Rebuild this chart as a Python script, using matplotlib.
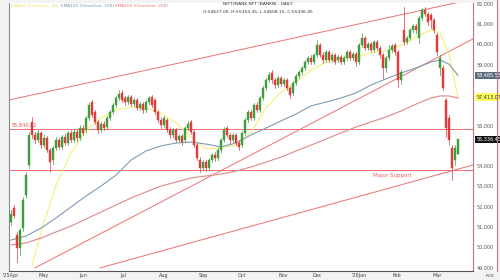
import matplotlib
matplotlib.use("Agg")
import matplotlib.pyplot as plt
from matplotlib.patches import Rectangle

# ---------------- data ----------------
opens = [51260, 51950, 50620, 49980, 50970, 52590, 54070, 56190, 55550, 55300,
         55640, 55050, 55400, 54810, 54310, 54910, 55300, 54960, 55450, 55150,
         55640, 55300, 55690, 55400, 55890, 55790, 56380, 57170, 56680, 56190,
         55790, 56090, 55940, 56380, 56680, 57020, 57370, 57620, 57370, 57170,
         57420, 57070, 57270, 56880, 57070, 56780, 57170, 57420, 57270, 56680,
         56290, 56040, 56290, 55790, 55550, 55790, 55300, 55500, 55300, 55890,
         56190, 55690, 55050, 54310, 53920, 54220, 53920, 54310, 54560, 54410,
         54810, 55300, 55890, 55550, 55300, 55550, 55150, 55050, 55640, 56290,
         56680, 56380, 57020, 56780, 57370, 57860, 58260, 58600, 58260, 58010,
         58350, 58060, 58260, 57860, 57620, 58110, 58450, 58650, 58850, 59140,
         59340, 59140, 59490, 59980, 59490, 59240, 59640, 59240, 59490, 59240,
         59390, 59140, 59340, 59640, 59340, 59540, 59140, 59980, 60330, 59830,
         60030, 59730, 60130, 59830, 59490, 58850, 59340, 59730, 59980, 59640,
         58260, 60720, 60130, 60330, 60720, 60920, 60330, 61310, 61700, 61510,
         61460, 61210, 60470, 58850, 58850, 57270, 56380, 54910, 54310, 54630]
highs = [51850, 52100, 50770, 50970, 52490, 53720, 55690, 56430, 55690, 55790,
         55740, 55550, 55500, 54910, 55010, 55450, 55400, 55550, 55600, 55740,
         55790, 55840, 55840, 56040, 56040, 56480, 57120, 57270, 56780, 56280,
         56190, 56230, 56480, 56780, 57120, 57470, 57760, 57760, 57470, 57520,
         57520, 57370, 57370, 57170, 57170, 57270, 57470, 57520, 57370, 56780,
         56430, 56480, 56380, 55940, 55890, 55890, 55600, 55600, 55990, 56230,
         56290, 55790, 55150, 54460, 54310, 54310, 54410, 54660, 54710, 54910,
         55400, 55940, 55990, 55640, 55640, 55640, 55300, 55740, 56380, 56780,
         56780, 57120, 57170, 57470, 57960, 58350, 58650, 58750, 58350, 58450,
         58450, 58350, 58350, 57960, 58210, 58550, 58750, 58950, 59240, 59440,
         59490, 59590, 60230, 60080, 59640, 59730, 59730, 59590, 59590, 59490,
         59490, 59440, 59730, 59730, 59640, 59640, 60080, 60570, 60420, 60130,
         60130, 60230, 60230, 59930, 59590, 59440, 59980, 60030, 60080, 59730,
         58750, 61850, 60420, 60820, 61020, 61020, 61410, 61800, 61850, 61610,
         61560, 61310, 60570, 59490, 58990, 57370, 56530, 55050, 55050, 55350]
lows = [51110, 51460, 49290, 49640, 50820, 52440, 53920, 55400, 55150, 55200,
        54910, 54960, 54710, 53720, 54120, 54810, 54860, 54860, 55050, 55050,
        55200, 55200, 55250, 55300, 55550, 55690, 56280, 56430, 56090, 55640,
        55690, 55790, 55840, 56280, 56580, 56930, 57270, 57170, 57020, 57070,
        56980, 56980, 56780, 56780, 56630, 56680, 57070, 56930, 56580, 56190,
        55890, 55940, 55690, 55400, 55450, 55200, 55200, 55050, 55200, 55790,
        55590, 54960, 54310, 53720, 53820, 53770, 53820, 54220, 54260, 54310,
        54710, 55200, 55450, 55150, 55200, 55050, 54810, 54960, 55550, 56190,
        56290, 56290, 56680, 56680, 57270, 57760, 58160, 58110, 57860, 57910,
        57960, 57960, 57760, 57370, 57520, 58010, 58350, 58550, 58750, 59040,
        59040, 59040, 59390, 59390, 59090, 59140, 59140, 59140, 59040, 59140,
        59040, 59040, 59240, 59240, 59240, 58950, 59040, 59880, 59730, 59730,
        59640, 59640, 59730, 59340, 58350, 58650, 59240, 59640, 59490, 57910,
        58060, 59980, 60030, 60230, 60620, 60570, 60080, 61210, 61410, 60970,
        60820, 60570, 59490, 58500, 57760, 55450, 55050, 53330, 54070, 54610]
closes = [51650, 51560, 49980, 50870, 52350, 53580, 55550, 55550, 55300, 55640,
          55050, 55400, 54810, 54210, 54910, 55300, 54960, 55450, 55150, 55640,
          55300, 55690, 55400, 55890, 55640, 56380, 57020, 56530, 56190, 55790,
          56090, 55890, 56380, 56680, 57020, 57370, 57570, 57270, 57170, 57420,
          57070, 57270, 56880, 57070, 56780, 57170, 57370, 57020, 56680, 56290,
          56040, 56380, 55790, 55550, 55790, 55300, 55500, 55200, 55890, 56090,
          55690, 55050, 54410, 53920, 54220, 53920, 54310, 54560, 54410, 54810,
          55300, 55790, 55550, 55300, 55550, 55150, 54960, 55640, 56290, 56680,
          56380, 57020, 56780, 57370, 57860, 58260, 58500, 58260, 58010, 58350,
          58060, 58260, 57860, 57520, 58110, 58450, 58650, 58850, 59140, 59340,
          59140, 59490, 59980, 59490, 59240, 59640, 59240, 59490, 59140, 59390,
          59140, 59340, 59640, 59340, 59540, 59140, 59980, 60330, 59830, 60030,
          59730, 60130, 59830, 59490, 58850, 59340, 59730, 59930, 59640, 58260,
          58650, 60130, 60330, 60720, 60920, 60720, 61310, 61700, 61510, 61110,
          61210, 60720, 59640, 59340, 57860, 55890, 55300, 53920, 54910, 55336.45]

ema20_idx = [7, 10, 15, 20, 25, 30, 35, 40, 45, 50, 55, 60, 65, 70, 75, 80, 85,
             90, 95, 100, 105, 110, 115, 120, 125, 130, 135, 140, 143, 146, 149]
ema20 = [49100, 50770, 53080, 54660, 55790, 56380, 56780, 56930, 56880,
         56630, 56140, 55450, 54860, 54910, 55050, 55690, 56880, 57660, 58160,
         58750, 59140, 59340, 59390, 59590, 59690, 59980, 60370, 60720, 60570,
         59500, 57413.07]
ema_idx = [0, 5, 10, 15, 20, 25, 30, 35, 40, 45, 50, 55, 60, 65, 70, 75, 80, 85,
           90, 95, 100, 105, 110, 115, 120, 125, 130, 135, 140, 143, 146, 149]
ema100 = [50370, 50570, 50960, 51460, 52000, 52540, 53030, 53570, 54310, 54760,
          55010, 55150, 55200, 55100, 54960, 55150, 55550, 55890, 56240, 56580,
          56980, 57170, 57370, 57620, 58010, 58310, 58600, 58850, 59140, 59240,
          59040, 58485.55]
ema200 = [50130, 50230, 50470, 50770, 51060, 51410, 51750, 52100, 52440, 52740,
          53030, 53230, 53430, 53530, 53620, 53770, 53970, 54210, 54460, 54760,
          55050, 55350, 55650, 55940, 56190, 56430, 56730, 57070, 57370, 57470,
          57470, 57370]

resistance_level = 55840.42
support_level = 53800
# trend lines: (start index, start price, end index, end price)
upper_trend = (-0.7, 57270, 154, 62240)
steep_trend = (8.0, 49000, 154, 60280)
support_trend = (29.7, 49000, 154, 54070)

month_pos = [0, 10.7, 24, 37.3, 51, 64, 77, 90.7, 102, 116, 128.7, 142]
month_lbl = ["'25Apr", "May", "Jun", "Jul", "Aug", "Sep", "Oct", "Nov", "Dec",
             "'26Jan", "Feb", "Mar"]
ytick_vals = [49000, 50000, 51000, 52000, 53000, 54000, 56000, 59000, 60000,
              61000, 62000]

# ---------------- figure ----------------
W, H = 500, 280
fig = plt.figure(figsize=(W / 100, H / 100), dpi=100, facecolor="#f3f3f3")
ax = fig.add_axes([9 / W, 9 / H, 464 / W, 268 / H])
ax.set_facecolor("white")
ax.set_xlim(-0.667, 154)
ax.set_ylim(48847, 62049)
ax.set_xticks([])
ax.set_yticks([])
ax.spines["top"].set_visible(False)
ax.spines["left"].set_color("#888888")
ax.spines["bottom"].set_color("#555555")
ax.spines["right"].set_color("#c07090")
for s in ax.spines.values():
    s.set_linewidth(0.8)

line_red = "#f07070"
ax.axhline(resistance_level, color=line_red, lw=0.7, zorder=1)
ax.axhline(support_level, color=line_red, lw=0.7, zorder=1)
for t in [upper_trend, steep_trend, support_trend]:
    ax.plot([t[0], t[2]], [t[1], t[3]], color=line_red, lw=0.7, zorder=1)

ax.plot(ema20_idx, ema20, color="#f6f07a", lw=0.8, zorder=2)
ax.plot(ema_idx, ema100, color="#7f9bb5", lw=0.8, zorder=2)
ax.plot(ema_idx, ema200, color="#e08888", lw=0.8, zorder=2)

# candles
up_col, dn_col = "#3d9e3d", "#e03c3c"
bw = 0.62
for i, (o, h, l, c) in enumerate(zip(opens, highs, lows, closes)):
    col = up_col if c >= o else dn_col
    ax.plot([i, i], [l, h], color=col, lw=0.5, zorder=3)
    ax.add_patch(Rectangle((i - bw / 2, min(o, c)), bw, max(abs(c - o), 20),
                           facecolor=col, edgecolor=col, lw=0.3, zorder=4))

# texts in plot
ax.text(0.3, resistance_level + 60, "55,840.42", color="#e05050", fontsize=3.6,
        va="bottom", ha="left")
ax.text(127, support_level - 130, "Major Support", color="#f06060", fontsize=4,
        va="top", ha="center")
fig.text(258 / W, 1 - 2 / H, "NIFTYBANK.NFT !BANKNI - DAILY",
         fontsize=3.2, color="#333333", ha="center", va="top")
fig.text(258 / W, 1 - 10 / H, "O:54627.00, H:55354.45, L:54608.15, C:55336.45",
         fontsize=3.2, color="#333333", ha="center", va="top")
fig.text(11 / W, 1 - 6 / H, "EMA20 (CloseLine, 20)", fontsize=3.1,
         color="#e8e050", ha="left", va="center")
fig.text(61 / W, 1 - 6 / H, "EMA100 (CloseLine, 100)", fontsize=3.1,
         color="#6f8faf", ha="left", va="center")
fig.text(115 / W, 1 - 6 / H, "EMA200 (CloseLine, 200)", fontsize=3.1,
         color="#e07070", ha="left", va="center")

# right price scale
for v in ytick_vals:
    ax.text(155.3, v, f"{v:,}", fontsize=3.5, color="#555555", va="center",
            ha="left", clip_on=False)
boxes = [(58485.55, "58,485.55", "#5b6b7b", "white"),
         (57413.07, "57,413.07", "#ffff60", "#222222"),
         (55336.45, "55,336.45", "#111111", "white")]
for v, s, bg, fg in boxes:
    ax.text(155.2, v, s, fontsize=3.5, color=fg, va="center", ha="left",
            clip_on=False,
            bbox=dict(boxstyle="square,pad=0.25", fc=bg, ec="none"))

fig.add_artist(plt.Line2D([497 / W, 497 / W], [9 / H, 1], color="#c07090",
                          lw=0.8))
fig.patches.append(Rectangle((474 / W, 9 / H), 23 / W, 268 / H,
                             transform=fig.transFigure, fc="white",
                             ec="none", zorder=-1))

for p, s in zip(month_pos, month_lbl):
    ax.text(p, 48847 - 80, s, fontsize=3.5, color="#444444", ha="center",
            va="top", clip_on=False)
fig.text(486 / W, 1 - 276 / H, "ROE", fontsize=3.2, color="#555555",
         ha="left", va="center")

fig.savefig("out.png", dpi=100, facecolor=fig.get_facecolor())
